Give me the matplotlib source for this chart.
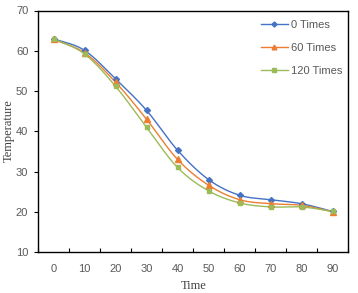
import numpy as np
import matplotlib
matplotlib.use("Agg")
import matplotlib.pyplot as plt
from matplotlib.ticker import FixedLocator

times = [0, 10, 20, 30, 40, 50, 60, 70, 80, 90]
temp_0 = [63.0, 60.1, 53.0, 45.2, 35.3, 28.0, 24.1, 23.0, 22.0, 20.1]
temp_60 = [62.8, 59.5, 52.2, 43.0, 33.0, 26.6, 23.0, 22.0, 21.6, 20.0]
temp_120 = [63.0, 59.2, 51.2, 41.0, 31.0, 25.2, 22.2, 21.2, 21.2, 20.1]
series_labels = ["0 Times", "60 Times", "120 Times"]

COLORS = ["#4472C4", "#ED7D31", "#9BBB59"]
MARKERS = [("D", 3.0), ("^", 4.0), ("s", 3.2)]
GREY = "#595959"


def smooth(x, y, n=24):
    # Catmull-Rom curve through the points, like Excel's smoothed line
    x = np.asarray(x, float)
    y = np.asarray(y, float)
    px = np.concatenate([[2 * x[0] - x[1]], x, [2 * x[-1] - x[-2]]])
    py = np.concatenate([[2 * y[0] - y[1]], y, [2 * y[-1] - y[-2]]])
    xs, ys = [], []
    t = np.linspace(0, 1, n, endpoint=False)
    for i in range(1, len(px) - 2):
        for p, out in ((px, xs), (py, ys)):
            p0, p1, p2, p3 = p[i - 1], p[i], p[i + 1], p[i + 2]
            out.extend(0.5 * (2 * p1 + (-p0 + p2) * t + (2 * p0 - 5 * p1 + 4 * p2 - p3) * t ** 2
                              + (-p0 + 3 * p1 - 3 * p2 + p3) * t ** 3))
    xs.append(x[-1])
    ys.append(y[-1])
    return np.array(xs), np.array(ys)


fig = plt.figure(figsize=(3.58, 2.93), dpi=100)
ax = fig.add_axes([38 / 358, 41 / 293, 310 / 358, 241.5 / 293])

idx = np.arange(len(times))
for values, label, color, (marker, ms) in zip([temp_0, temp_60, temp_120], series_labels, COLORS, MARKERS):
    sx, sy = smooth(idx, values)
    ax.plot(sx, sy, color=color, lw=1.0, zorder=2)
    ax.plot(idx, values, ls="none", marker=marker, ms=ms, color=color, mec=color, zorder=3)
    ax.plot([], [], color=color, lw=1.0, marker=marker, ms=ms * 0.85, label=label)

ax.set_xlim(-0.5, len(times) - 0.5)
ax.set_ylim(10, 70)
ax.set_xticks(idx)
ax.set_xticklabels([str(t) for t in times])
ax.xaxis.set_minor_locator(FixedLocator(np.arange(-0.5, len(times), 1.0)))
ax.set_yticks(np.arange(10, 71, 10))

ax.tick_params(axis="x", which="major", length=0, pad=9, labelsize=8, labelcolor=GREY)
ax.tick_params(axis="x", which="minor", direction="in", length=3, width=0.8, color="black")
ax.tick_params(axis="y", direction="out", length=3, width=0.8, pad=4, labelsize=8, labelcolor=GREY)
for side in ax.spines.values():
    side.set_linewidth(1.0)
    side.set_color("black")

for lab in ax.get_xticklabels() + ax.get_yticklabels():
    lab.set_family("Liberation Sans")

fig.text(194 / 358, 1 - 286 / 293, "Time", family="Liberation Serif", fontsize=9,
         color="#404040", ha="center", va="center")
fig.text(9 / 358, 1 - 131 / 293, "Temperature", family="Liberation Serif", fontsize=9,
         color="#404040", ha="center", va="center", rotation=90)

leg = ax.legend(loc="upper left", bbox_to_anchor=(261 / 358, 1 - 19.5 / 293), bbox_transform=fig.transFigure,
                frameon=False, borderpad=0, borderaxespad=0, handlelength=2.4, handletextpad=0.3,
                labelspacing=1.2, prop={"family": "Liberation Sans", "size": 8})
for txt in leg.get_texts():
    txt.set_color(GREY)

fig.savefig("out.png", dpi=100)
